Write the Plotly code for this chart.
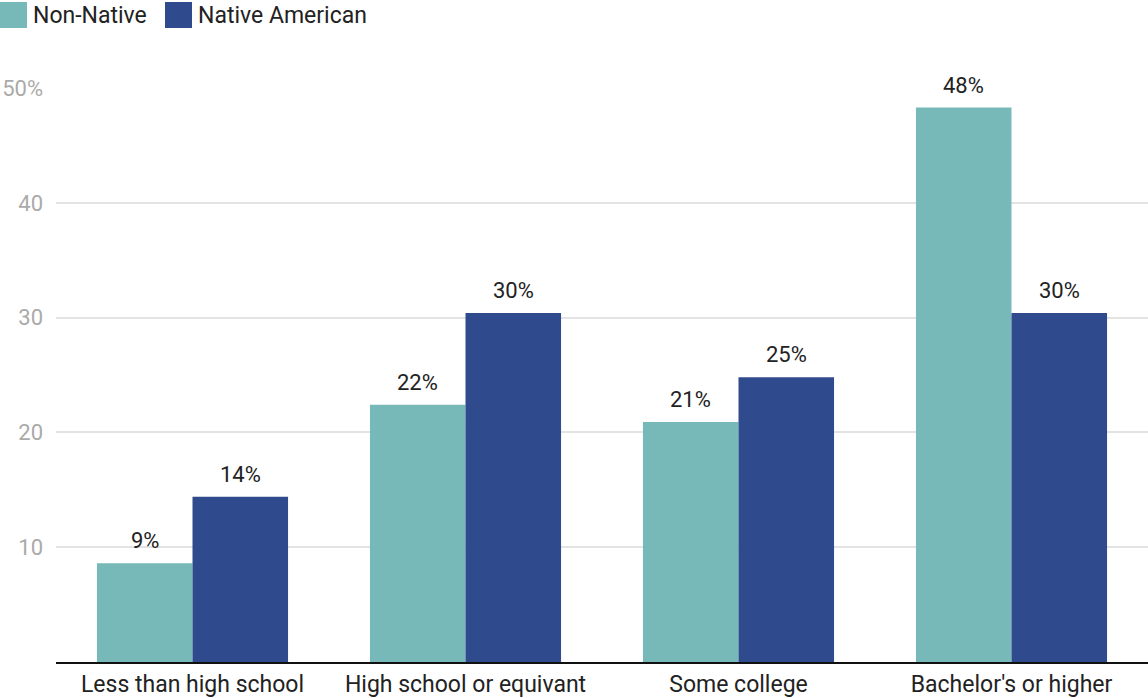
import plotly.graph_objects as go

categories = ["Less than high school", "High school or equivant", "Some college", "Bachelor's or higher"]
series_names = ["Non-Native", "Native American"]
non_native = [8.6, 22.4, 20.9, 48.3]
native_american = [14.4, 30.4, 24.8, 30.4]
tick_vals = [10, 20, 30, 40, 50]
tick_text = ["10", "20", "30", "40", "50%"]
colors = ["#77b9b8", "#304b8d"]

W, H = 1148, 698
ML, MR, MT, MB = 56, 0, 88, 36
PW, PH = W - ML - MR, H - MT - MB

def px_x(px):
    return (px - ML) / PW

def px_y(py):
    return (H - MB - py) / PH

fig = go.Figure()
series_vals = [non_native, native_american]
for name, vals, col in zip(series_names, series_vals, colors):
    fig.add_trace(go.Bar(
        x=categories, y=vals, name=name, marker_color=col, marker_line_width=0,
        showlegend=False,
    ))

# value labels above bars
bar_px = PW / len(categories) * 0.7 / 2
annotations = []
for si, vals in enumerate(series_vals):
    xs = (si - 0.5) * bar_px
    for cat, v in zip(categories, vals):
        annotations.append(dict(x=cat, y=v, xref="x", yref="y", text=f"{v:.0f}%",
                                showarrow=False, xshift=xs, yshift=8, yanchor="bottom",
                                font=dict(family="Roboto", size=22, color="#222222")))

# custom legend (large swatches)
legend_x = [0, 165]
shapes = []
for i, (name, col) in enumerate(zip(series_names, colors)):
    x0 = legend_x[i]
    shapes.append(dict(type="rect", xref="paper", yref="paper",
                       x0=px_x(x0), x1=px_x(x0 + 27), y0=px_y(28), y1=px_y(2),
                       fillcolor=col, line=dict(width=0)))
    annotations.append(dict(xref="paper", yref="paper", x=px_x(x0 + 31), y=px_y(15),
                            xanchor="left", yanchor="middle", text=name, showarrow=False,
                            font=dict(family="Roboto", size=23, color="#222222")))

fig.update_layout(
    width=W, height=H,
    margin=dict(l=ML, r=MR, t=MT, b=MB, pad=0),
    paper_bgcolor="white", plot_bgcolor="white",
    barmode="group", bargap=0.3, bargroupgap=0,
    shapes=shapes, annotations=annotations,
    font=dict(family="Roboto"),
    xaxis=dict(showline=True, linecolor="#111111", linewidth=2, ticks="",
               tickfont=dict(family="Roboto", size=23, color="#222222"),
               showgrid=False, zeroline=False),
    yaxis=dict(range=[0, 50], tickvals=tick_vals, ticktext=tick_text,
               showgrid=True, gridcolor="#e3e3e3", gridwidth=1.5, zeroline=False,
               ticks="", ticklabelstandoff=12,
               tickfont=dict(family="Roboto", size=22, color="#aaaaaa")),
)

fig.write_html("out.html")
